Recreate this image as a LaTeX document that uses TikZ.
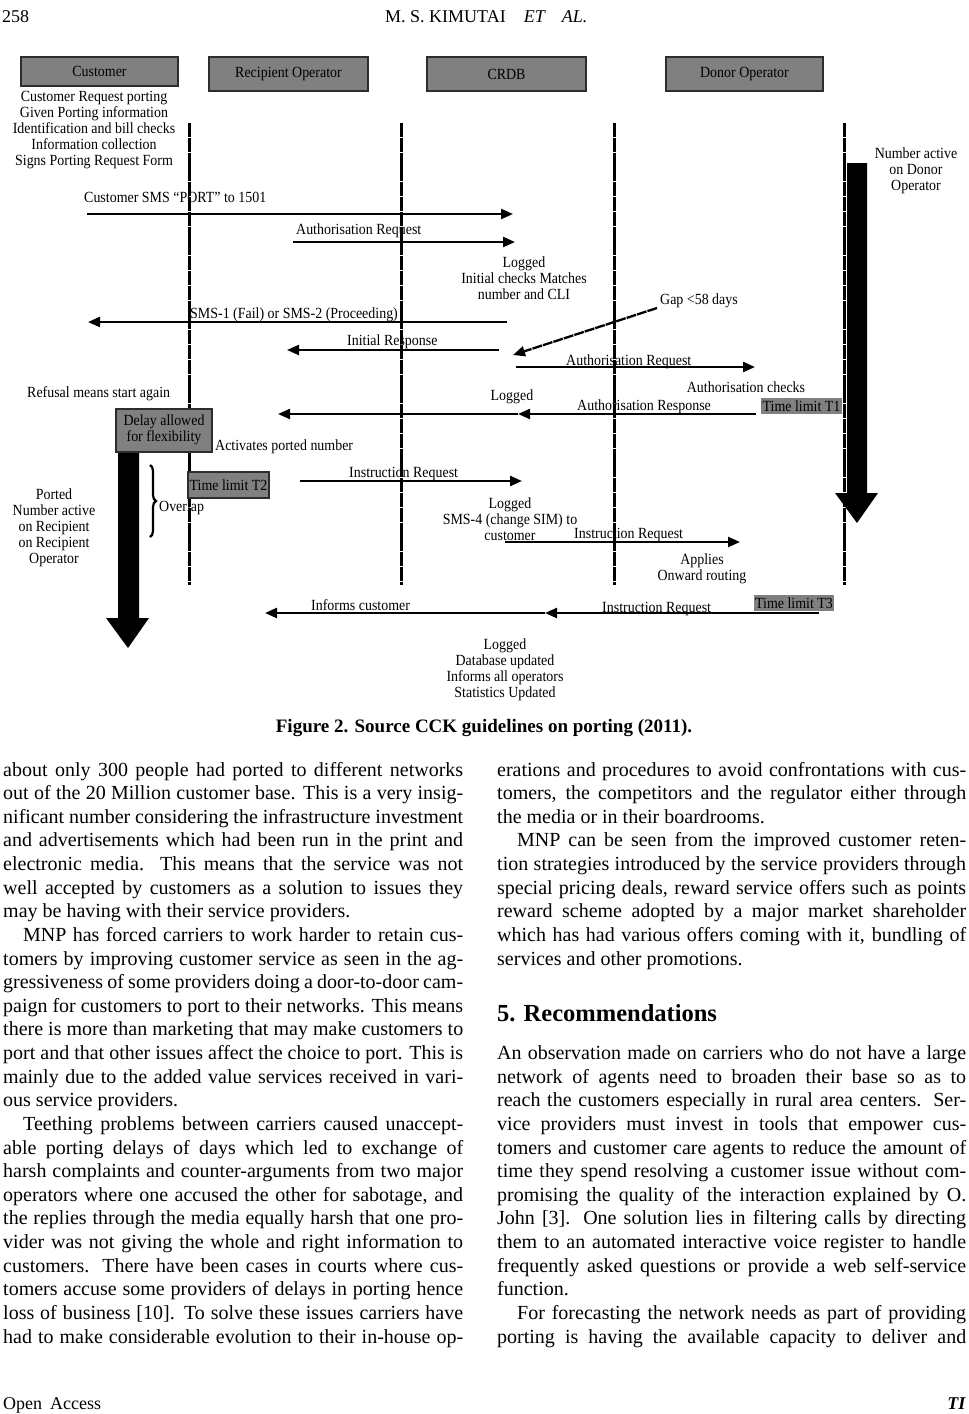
\documentclass[tikz,border=0pt]{standalone}
\usepackage{fontspec}
\setmainfont{Liberation Serif}
\newfontfamily\dfont[FakeStretch=0.9]{Liberation Serif}
\usetikzlibrary{arrows.meta,decorations.pathreplacing}
\newcount\lnum
\newcommand\mlines[1]{\begin{tabular}[t]{@{}c@{}}#1\end{tabular}}
\newcommand\JL[4]{\global\advance\lnum by 1 \node[bodyt] (t\the\lnum) at (#1,#2) {\makebox[#3pt][s]{#4}};}
\newcommand\LL[3]{\global\advance\lnum by 1 \node[bodyt] (t\the\lnum) at (#1,#2) {#3};}
\definecolor{boxgray}{RGB}{128,128,128}
\definecolor{boxedge}{RGB}{45,45,45}
\tikzset{
 lbl/.style={inner sep=0pt, font=\dfont\fontsize{15.5}{16}\selectfont},
 lblw/.style={lbl, anchor=base west},
 lblc/.style={lbl, anchor=base},
 hdr/.style={draw=boxedge, line width=1.6pt, fill=boxgray, inner sep=0pt, font=\dfont\fontsize{15.5}{16}\selectfont},
 tflat/.style={fill=boxgray, inner sep=0pt, font=\dfont\fontsize{15.5}{16}\selectfont},
 life/.style={line width=3pt, dash pattern=on 14pt off 0.8pt},
 msg/.style={line width=2.3pt, -{Triangle[length=12pt,width=10pt]}},
 gapmsg/.style={msg, dash pattern=on 10pt off 1pt},
 bodyt/.style={inner sep=0pt, anchor=base west, font=\fontsize{20}{23.6}\selectfont},
}
\begin{document}
\begin{tikzpicture}[x=1pt,y=-1pt]
\useasboundingbox (0,0) rectangle (969,1414);
% running head and foot
\node[anchor=base west, inner sep=0pt, font=\fontsize{18}{20}\selectfont] (pgno) at (2,22) {258};
\node[anchor=base west, inner sep=0pt, font=\fontsize{18}{20}\selectfont] (runhead) at (385,22) {M. S. KIMUTAI\hspace{18pt}\textit{ET}\hspace{16pt}\textit{AL.}};
\node[anchor=base west, inner sep=0pt, font=\fontsize{18}{20}\selectfont] (foot) at (3,1409) {Open\hspace{8pt}Access};
\node[anchor=base east, inner sep=0pt, font=\fontsize{18}{20}\selectfont] (footj) at (966,1409) {\textbf{\textit{TI}}};

% header boxes
\node[hdr, minimum width=157pt, minimum height=29pt] (hcust) at (99.5,71.5) {Customer};
\node[hdr, minimum width=159pt, minimum height=34pt] (hrec) at (288.5,74) {Recipient Operator};
\node[hdr, minimum width=159pt, minimum height=34pt] (hcrdb) at (506.5,74) {CRDB};
\node[hdr, minimum width=157pt, minimum height=34pt] (hdon) at (744.5,74) {Donor Operator};

% lifelines
\coordinate (l1t) at (189,123); \coordinate (l1b) at (189,585);
\coordinate (l2t) at (401,123); \coordinate (l2b) at (401,585);
\coordinate (l3t) at (614,123); \coordinate (l3b) at (614,585);
\coordinate (l4t) at (844,123); \coordinate (l4b) at (844,585);
\draw[life] (l1t) -- (l1b);
\draw[life] (l2t) -- (l2b);
\draw[life] (l3t) -- (l3b);
\draw[life] (l4t) -- (l4b);

% big block arrows
\fill[black] (847,163) -- (867,163) -- (867,493) -- (878,493) -- (857,523) -- (835,493) -- (847,493) -- cycle;
\fill[black] (118,452) -- (139,452) -- (139,618) -- (149,618) -- (128,648) -- (106,618) -- (118,618) -- cycle;

% boxes
\node[hdr, minimum width=96pt, minimum height=43pt] (delay) at (164,430.5) {\mlines{Delay allowed\\for flexibility}};
\node[hdr, minimum width=81pt, minimum height=26pt, line width=1.2pt] (t2) at (228.5,485) {Time limit T2};
\node[tflat, minimum width=81pt, minimum height=16pt] (t1) at (801.5,406) {Time limit T1};
\node[tflat, minimum width=80pt, minimum height=16pt] (t3) at (794,603) {Time limit T3};

% brace
\coordinate (brt) at (150,465); \coordinate (brb) at (150,537);
\draw[line width=2.2pt, decorate, decoration={brace, amplitude=6pt}] (brt) -- (brb);

% labels
\node[lblc] (custtxt) at (94,101.5) {\mlines{Customer Request porting\\Given Porting information\\Identification and bill checks\\Information collection\\Signs Porting Request Form}};
\node[lblc] (donact) at (916,158.5) {\mlines{Number active\\on Donor\\Operator}};
\node[lblw] (m1l) at (84,202.5) {Customer SMS “PORT” to 1501};
\node[lblw] (m2l) at (296,234.5) {Authorisation Request};
\node[lblc] (log1) at (524,267.5) {\mlines{Logged\\Initial checks Matches\\number and CLI}};
\node[lblw] (m3l) at (190,318.5) {SMS-1 (Fail) or SMS-2 (Proceeding)};
\node[lblw] (gapl) at (660,304.5) {Gap <58 days};
\node[lblw] (m4l) at (347,345.5) {Initial Response};
\node[lblw] (m6l) at (566,365.5) {Authorisation Request};
\node[lblc] (authc) at (746,392.5) {Authorisation checks};
\node[lblw] (refus) at (27,397.5) {Refusal means start again};
\node[lblc] (log2) at (512,400.5) {Logged};
\node[lblw] (m7l) at (577,410.5) {Authorisation Response};
\node[lblw] (activ) at (215,450.5) {Activates ported number};
\node[lblw] (m8l) at (349,477.5) {Instruction Request};
\node[lblw] (overl) at (159,511.5) {Overlap};
\node[lblc] (ported) at (54,499.5) {\mlines{Ported\\Number active\\on Recipient\\on Recipient\\Operator}};
\node[lblc] (log3) at (510,508.5) {\mlines{Logged\\SMS-4 (change SIM) to\\customer}};
\node[lblw] (m9l) at (574,538.5) {Instruction Request};
\node[lblc] (appl) at (702,564.5) {\mlines{Applies\\Onward routing}};
\node[lblw] (infc) at (311,610.5) {Informs customer};
\node[lblw] (m10l) at (602,612.5) {Instruction Request};
\node[lblc] (log4) at (505,649.5) {\mlines{Logged\\Database updated\\Informs all operators\\Statistics Updated}};

% messages
\coordinate (a1s) at (87,214); \coordinate (a1e) at (513,214);
\coordinate (a2s) at (293,242); \coordinate (a2e) at (515,242);
\coordinate (a3s) at (507,322); \coordinate (a3e) at (88,322);
\coordinate (a4s) at (499,350); \coordinate (a4e) at (287,350);
\coordinate (a5s) at (657,308); \coordinate (a5e) at (513,355);
\coordinate (a6s) at (516,367); \coordinate (a6e) at (755,367);
\coordinate (a7s) at (756,414); \coordinate (a7m) at (518,414); \coordinate (a7e) at (278,414);
\coordinate (a8s) at (300,481); \coordinate (a8e) at (522,481);
\coordinate (a9s) at (505,542); \coordinate (a9e) at (740,542);
\coordinate (a10s) at (819,613); \coordinate (a10m) at (545,613); \coordinate (a10e) at (265,613);
\draw[msg] (a1s) -- (a1e);
\draw[msg] (a2s) -- (a2e);
\draw[msg] (a3s) -- (a3e);
\draw[msg] (a4s) -- (a4e);
\draw[gapmsg] (a5s) -- (a5e);
\draw[msg] (a6s) -- (a6e);
\draw[msg] (a7s) -- (a7m);
\draw[msg] (a7m) -- (a7e);
\draw[msg] (a8s) -- (a8e);
\draw[msg] (a9s) -- (a9e);
\draw[msg] (a10s) -- (a10m);
\draw[msg] (a10m) -- (a10e);

% caption
\node[anchor=base, inner sep=0pt, font=\fontsize{19}{22}\selectfont\bfseries] (cap) at (484,732) {Figure 2. Source CCK guidelines on porting (2011).};

% left column
\JL{3}{776.0}{460}{about only 300 people had ported to different networks}
\JL{3}{799.6}{460}{out of the 20 Million customer base. This is a very insig-}
\JL{3}{823.3}{460}{nificant number considering the infrastructure investment}
\JL{3}{846.9}{460}{and advertisements which had been run in the print and}
\JL{3}{870.5}{460}{electronic media. This means that the service was not}
\JL{3}{894.1}{460}{well accepted by customers as a solution to issues they}
\LL{3}{917.8}{may be having with their service providers.}
\JL{23}{941.4}{440}{MNP has forced carriers to work harder to retain cus-}
\JL{3}{965.0}{460}{tomers by improving customer service as seen in the ag-}
\JL{3}{988.6}{460}{gressiveness of some providers doing a door-to-door cam-}
\JL{3}{1012.3}{460}{paign for customers to port to their networks. This means}
\JL{3}{1035.9}{460}{there is more than marketing that may make customers to}
\JL{3}{1059.5}{460}{port and that other issues affect the choice to port. This is}
\JL{3}{1083.1}{460}{mainly due to the added value services received in vari-}
\LL{3}{1106.8}{ous service providers.}
\JL{23}{1130.4}{440}{Teething problems between carriers caused unaccept-}
\JL{3}{1154.0}{460}{able porting delays of days which led to exchange of}
\JL{3}{1177.6}{460}{harsh complaints and counter-arguments from two major}
\JL{3}{1201.3}{460}{operators where one accused the other for sabotage, and}
\JL{3}{1224.9}{460}{the replies through the media equally harsh that one pro-}
\JL{3}{1248.5}{460}{vider was not giving the whole and right information to}
\JL{3}{1272.1}{460}{customers. There have been cases in courts where cus-}
\JL{3}{1295.8}{460}{tomers accuse some providers of delays in porting hence}
\JL{3}{1319.4}{460}{loss of business [10]. To solve these issues carriers have}
\JL{3}{1343.0}{460}{had to make considerable evolution to their in-house op-}

% right column
\JL{497}{776.0}{469}{erations and procedures to avoid confrontations with cus-}
\JL{497}{799.6}{469}{tomers, the competitors and the regulator either through}
\LL{497}{823.3}{the media or in their boardrooms.}
\JL{517}{846.9}{449}{MNP can be seen from the improved customer reten-}
\JL{497}{870.5}{469}{tion strategies introduced by the service providers through}
\JL{497}{894.1}{469}{special pricing deals, reward service offers such as points}
\JL{497}{917.8}{469}{reward scheme adopted by a major market shareholder}
\JL{497}{941.4}{469}{which has had various offers coming with it, bundling of}
\LL{497}{965.0}{services and other promotions.}
\node[anchor=base west, inner sep=0pt, font=\fontsize{24.5}{28}\selectfont\bfseries] (sec5) at (497,1021) {5. Recommendations};
\JL{497}{1059.5}{469}{An observation made on carriers who do not have a large}
\JL{497}{1083.1}{469}{network of agents need to broaden their base so as to}
\JL{497}{1106.8}{469}{reach the customers especially in rural area centers. Ser-}
\JL{497}{1130.4}{469}{vice providers must invest in tools that empower cus-}
\JL{497}{1154.0}{469}{tomers and customer care agents to reduce the amount of}
\JL{497}{1177.6}{469}{time they spend resolving a customer issue without com-}
\JL{497}{1201.3}{469}{promising the quality of the interaction explained by O.}
\JL{497}{1224.9}{469}{John [3]. One solution lies in filtering calls by directing}
\JL{497}{1248.5}{469}{them to an automated interactive voice register to handle}
\JL{497}{1272.1}{469}{frequently asked questions or provide a web self-service}
\LL{497}{1295.8}{function.}
\JL{517}{1319.4}{449}{For forecasting the network needs as part of providing}
\JL{497}{1343.0}{469}{porting is having the available capacity to deliver and}
\end{tikzpicture}
\end{document}
